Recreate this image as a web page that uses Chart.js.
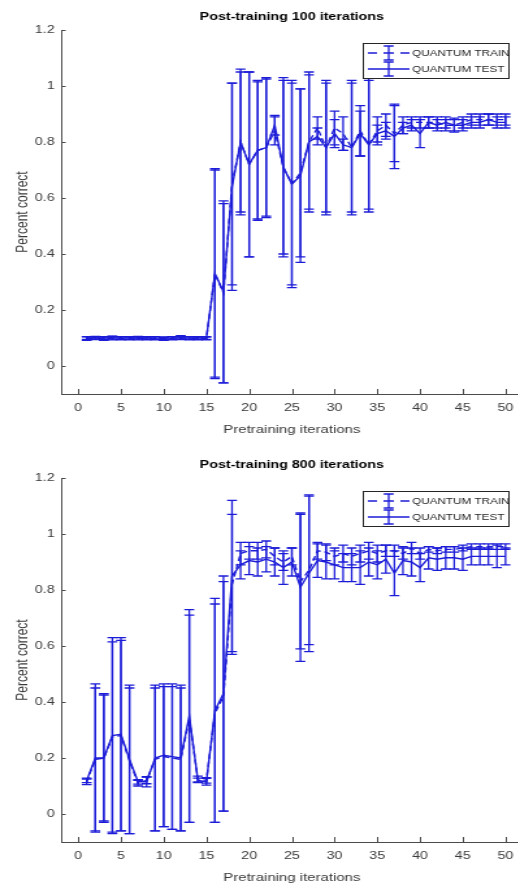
<!DOCTYPE html>
<html>
<head>
<meta charset="utf-8">
<title>Post-training accuracy</title>
<script src="https://cdn.jsdelivr.net/npm/chart.js@4.4.1/dist/chart.umd.min.js"></script>
<style>
  html, body { margin: 0; padding: 0; background: #fff; overflow: hidden; width: 518px; height: 884px; }
  /* the reference picture is stretched sideways, so the plots are too */
  .plot { position: absolute; left: 0; transform: scaleX(1.3); transform-origin: 0 0; }
  #top-wrap { top: 0; }
  #bottom-wrap { top: 448px; }
</style>
</head>
<body>
<div class="plot" id="top-wrap"><canvas id="top-graf" width="404" height="446"></canvas></div>
<div class="plot" id="bottom-wrap"><canvas id="bottom-graf" width="404" height="446"></canvas></div>
<script>
"use strict";
//------------------------------ data ---------------------------------------
const iterations = [1, 2, 3, 4, 5, 6, 7, 8, 9, 10, 11, 12, 13, 14, 15, 16, 17, 18, 19, 20,
  21, 22, 23, 24, 25, 26, 27, 28, 29, 30, 31, 32, 33, 34, 35, 36, 37, 38, 39, 40,
  41, 42, 43, 44, 45, 46, 47, 48, 49, 50];
const xTicks = [0, 5, 10, 15, 20, 25, 30, 35, 40, 45, 50];
const yTicks = [0, 0.2, 0.4, 0.6, 0.8, 1, 1.2];

// post-training 100 iterations
const trainMean100 = [0.098, 0.099, 0.098, 0.100, 0.099, 0.098, 0.099, 0.098, 0.099, 0.097, 0.099, 0.101, 0.099, 0.098, 0.098,
  0.33, 0.26, 0.65, 0.80, 0.72, 0.77, 0.78, 0.84, 0.71, 0.65, 0.69, 0.80, 0.85, 0.78, 0.85,
  0.83, 0.78, 0.84, 0.79, 0.84, 0.86, 0.83, 0.86, 0.87, 0.87, 0.87, 0.87, 0.86, 0.86, 0.87,
  0.88, 0.88, 0.88, 0.88, 0.88];
const trainErr100 = [0.006, 0.005, 0.006, 0.007, 0.006, 0.005, 0.006, 0.005, 0.006, 0.005, 0.006, 0.007, 0.006, 0.005, 0.005,
  0.37, 0.32, 0.36, 0.26, 0.33, 0.25, 0.25, 0.05, 0.31, 0.36, 0.30, 0.24, 0.04, 0.23, 0.06,
  0.06, 0.23, 0.09, 0.23, 0.05, 0.04, 0.10, 0.03, 0.02, 0.02, 0.02, 0.02, 0.02, 0.025, 0.02,
  0.02, 0.02, 0.02, 0.02, 0.02];
const testMean100 = [0.100, 0.101, 0.100, 0.101, 0.100, 0.100, 0.101, 0.100, 0.100, 0.099, 0.100, 0.101, 0.100, 0.100, 0.100,
  0.33, 0.265, 0.64, 0.80, 0.72, 0.77, 0.78, 0.86, 0.71, 0.65, 0.68, 0.80, 0.82, 0.78, 0.83,
  0.79, 0.78, 0.83, 0.79, 0.83, 0.84, 0.82, 0.85, 0.86, 0.83, 0.87, 0.86, 0.87, 0.86, 0.86,
  0.87, 0.87, 0.88, 0.87, 0.87];
const testErr100 = [0.005, 0.005, 0.005, 0.005, 0.005, 0.005, 0.005, 0.005, 0.005, 0.005, 0.005, 0.005, 0.005, 0.005, 0.005,
  0.375, 0.325, 0.37, 0.25, 0.33, 0.245, 0.245, 0.035, 0.32, 0.37, 0.31, 0.25, 0.03, 0.24, 0.05,
  0.02, 0.24, 0.08, 0.24, 0.03, 0.03, 0.115, 0.02, 0.02, 0.05, 0.02, 0.02, 0.02, 0.02, 0.02,
  0.02, 0.02, 0.02, 0.02, 0.02];

// post-training 800 iterations
const trainMean800 = [0.115, 0.195, 0.20, 0.275, 0.28, 0.19, 0.11, 0.12, 0.195, 0.205, 0.20, 0.195, 0.34, 0.125, 0.12,
  0.36, 0.42, 0.82, 0.93, 0.94, 0.94, 0.945, 0.92, 0.90, 0.92, 0.83, 0.87, 0.94, 0.935, 0.92,
  0.93, 0.92, 0.93, 0.94, 0.93, 0.94, 0.94, 0.93, 0.95, 0.93, 0.945, 0.94, 0.945, 0.945, 0.95,
  0.955, 0.955, 0.955, 0.955, 0.955];
const trainErr800 = [0.01, 0.255, 0.225, 0.34, 0.34, 0.26, 0.01, 0.012, 0.255, 0.25, 0.255, 0.255, 0.37, 0.01, 0.01,
  0.39, 0.41, 0.25, 0.04, 0.03, 0.03, 0.03, 0.03, 0.03, 0.03, 0.24, 0.265, 0.03, 0.03, 0.03,
  0.03, 0.03, 0.03, 0.03, 0.03, 0.02, 0.02, 0.02, 0.02, 0.02, 0.01, 0.01, 0.01, 0.01, 0.01,
  0.01, 0.01, 0.01, 0.01, 0.01];
const testMean800 = [0.12, 0.20, 0.20, 0.28, 0.285, 0.195, 0.115, 0.115, 0.20, 0.21, 0.205, 0.20, 0.35, 0.12, 0.115,
  0.37, 0.43, 0.85, 0.89, 0.905, 0.90, 0.91, 0.90, 0.88, 0.90, 0.81, 0.86, 0.905, 0.90, 0.89,
  0.88, 0.88, 0.88, 0.90, 0.89, 0.91, 0.86, 0.905, 0.90, 0.88, 0.915, 0.91, 0.915, 0.915, 0.91,
  0.92, 0.92, 0.92, 0.92, 0.92];
const testErr800 = [0.008, 0.265, 0.23, 0.35, 0.345, 0.265, 0.008, 0.018, 0.26, 0.255, 0.26, 0.26, 0.38, 0.008, 0.012,
  0.40, 0.42, 0.27, 0.05, 0.05, 0.05, 0.045, 0.05, 0.06, 0.05, 0.265, 0.28, 0.06, 0.06, 0.05,
  0.05, 0.05, 0.06, 0.05, 0.05, 0.05, 0.08, 0.05, 0.05, 0.05, 0.04, 0.04, 0.04, 0.04, 0.04,
  0.03, 0.03, 0.03, 0.04, 0.03];

//------------------------------ styles --------------------------------------
const blue = "#1c1cd8";
const axisColor = "#4a4a4a";
const textColor = "#3a3a3a";
const fontFamily = "'Liberation Sans', Arial, Helvetica, sans-serif";

//------------------------------ plugins -------------------------------------
// vertical error bars with caps, for every dataset
const errorBars = {
  id: "errorBars",
  afterDatasetsDraw(chart) {
    let ctx = chart.ctx;
    let x = chart.scales.x;
    let y = chart.scales.y;
    for (let ds of chart.data.datasets) {
      ctx.save();
      ctx.strokeStyle = ds.borderColor;
      ctx.lineWidth = 1.3;
      ctx.setLineDash([]);
      ds.data.forEach((p, i) => {
        let err = ds.errors[i];
        let px = x.getPixelForValue(p.x);
        let top = y.getPixelForValue(p.y + err);
        let bot = y.getPixelForValue(p.y - err);
        ctx.beginPath();
        ctx.moveTo(px, top);
        ctx.lineTo(px, bot);
        ctx.moveTo(px - 3.8, top);
        ctx.lineTo(px + 3.8, top);
        ctx.moveTo(px - 3.8, bot);
        ctx.lineTo(px + 3.8, bot);
        ctx.stroke();
      });
      ctx.restore();
    }
  }
};

// matlab style ticks pointing into the plot, title and legend box
const matlabLook = {
  id: "matlabLook",
  afterDraw(chart, args, opts) {
    let ctx = chart.ctx;
    let area = chart.chartArea;
    let x = chart.scales.x;
    let y = chart.scales.y;
    ctx.save();
    ctx.strokeStyle = axisColor;
    ctx.lineWidth = 1;
    ctx.beginPath();
    for (let v of yTicks) {
      let py = Math.round(y.getPixelForValue(v)) + 0.5;
      ctx.moveTo(area.left, py);
      ctx.lineTo(area.left + 3.5, py);
    }
    for (let v of xTicks) {
      let px = Math.round(x.getPixelForValue(v)) + 0.5;
      ctx.moveTo(px, area.bottom);
      ctx.lineTo(px, area.bottom - 5);
    }
    ctx.stroke();

    // title
    ctx.fillStyle = "#000";
    ctx.font = "bold 11px " + fontFamily;
    ctx.textAlign = "center";
    ctx.textBaseline = "middle";
    ctx.fillText(opts.title, (area.left + area.right) / 2, 17);

    // legend
    let boxRight = area.right - 11;
    let boxLeft = boxRight - 112;
    let boxTop = area.top + 13;
    ctx.fillStyle = "#fff";
    ctx.fillRect(boxLeft, boxTop, 112, 35);
    ctx.strokeStyle = "#262626";
    ctx.strokeRect(boxLeft + 0.5, boxTop + 0.5, 112, 35);
    ctx.font = "9px " + fontFamily;
    ctx.textAlign = "left";
    chart.data.datasets.forEach((ds, i) => {
      let cy = boxTop + 10 + i * 16;
      let gx = boxLeft + 20;
      ctx.strokeStyle = ds.borderColor;
      ctx.lineWidth = 1.3;
      ctx.beginPath();
      if (ds.borderDash && ds.borderDash.length) {
        ctx.moveTo(gx - 16, cy); ctx.lineTo(gx - 9, cy);
        ctx.moveTo(gx - 4, cy); ctx.lineTo(gx + 4, cy);
        ctx.moveTo(gx + 9, cy); ctx.lineTo(gx + 16, cy);
      } else {
        ctx.moveTo(gx - 16, cy); ctx.lineTo(gx + 16, cy);
      }
      ctx.moveTo(gx, cy - 7); ctx.lineTo(gx, cy + 7);
      ctx.moveTo(gx - 3.8, cy - 7); ctx.lineTo(gx + 3.8, cy - 7);
      ctx.moveTo(gx - 3.8, cy + 7); ctx.lineTo(gx + 3.8, cy + 7);
      ctx.stroke();
      ctx.fillStyle = "#262626";
      ctx.fillText(ds.label, gx + 18, cy + 0.5);
    });
    ctx.restore();
  }
};

//------------------------------ charts --------------------------------------
function toPoints(values) {
  return iterations.map((it, i) => ({ x: it, y: values[i] }));
}

function makeChart(canvasId, title, trainMean, trainErr, testMean, testErr) {
  let ctx = document.getElementById(canvasId).getContext("2d");
  return new Chart(ctx, {
    type: "line",
    data: {
      datasets: [{
        label: "QUANTUM TRAIN",
        data: toPoints(trainMean),
        errors: trainErr,
        borderColor: blue,
        borderWidth: 1.4,
        borderDash: [5, 3],
        pointRadius: 0,
        fill: false,
        tension: 0
      }, {
        label: "QUANTUM TEST",
        data: toPoints(testMean),
        errors: testErr,
        borderColor: blue,
        borderWidth: 1.4,
        pointRadius: 0,
        fill: false,
        tension: 0
      }]
    },
    options: {
      responsive: false,
      animation: false,
      devicePixelRatio: 1,
      layout: { padding: { top: 30, right: 2, left: 0, bottom: 0 } },
      plugins: {
        legend: { display: false },
        tooltip: { enabled: false },
        title: { display: false },
        matlabLook: { title: title }
      },
      scales: {
        x: {
          type: "linear",
          min: -2,
          max: 52,
          afterBuildTicks: s => { s.ticks = xTicks.map(v => ({ value: v })); },
          afterFit: s => { s.height = 52; },
          grid: { display: false, drawTicks: false },
          border: { display: true, color: axisColor, width: 1 },
          ticks: { color: textColor, font: { family: fontFamily, size: 11 }, padding: 7, maxRotation: 0, autoSkip: false },
          title: { display: true, text: "Pretraining iterations", color: textColor,
            font: { family: fontFamily, size: 11.5 }, padding: { top: 0, bottom: 9 } }
        },
        y: {
          type: "linear",
          min: -0.1,
          max: 1.2,
          afterBuildTicks: s => { s.ticks = yTicks.map(v => ({ value: v })); },
          afterFit: s => { s.width = 47; },
          grid: { display: false, drawTicks: false },
          border: { display: true, color: axisColor, width: 1 },
          ticks: { color: textColor, font: { family: fontFamily, size: 11 }, padding: 5,
            callback: v => String(Math.round(v * 10) / 10) },
          title: { display: true, text: "Percent correct", color: textColor,
            font: { family: fontFamily, size: 12 }, padding: { top: 10, bottom: 0 } }
        }
      }
    },
    plugins: [errorBars, matlabLook]
  });
}

makeChart("top-graf", "Post-training 100 iterations", trainMean100, trainErr100, testMean100, testErr100);
makeChart("bottom-graf", "Post-training 800 iterations", trainMean800, trainErr800, testMean800, testErr800);
</script>
</body>
</html>
